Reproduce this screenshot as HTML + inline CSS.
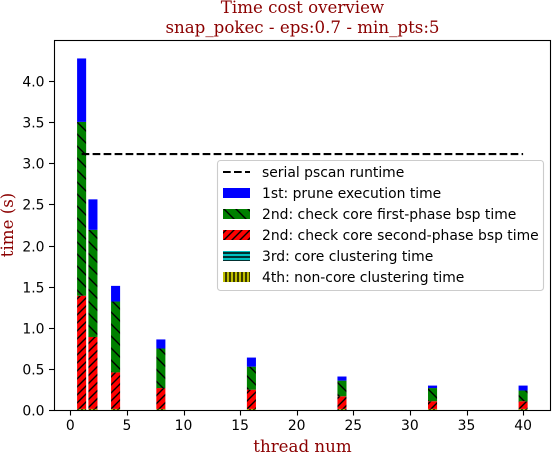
<!DOCTYPE html>
<html>
<head>
<meta charset="utf-8">
<style>
html,body{margin:0;padding:0;background:#fff;width:553px;height:456px;overflow:hidden}
svg{display:block}
text{font-family:"DejaVu Sans","Liberation Sans",sans-serif;font-size:13.9px;fill:#000}
.serif{font-family:"DejaVu Serif","Liberation Serif",serif;font-size:16.67px;fill:#8b0000}
</style>
</head>
<body>
<svg id="chart" xmlns="http://www.w3.org/2000/svg" width="553" height="456" viewBox="0 0 553 456">
<defs>
<pattern id="h-green" patternUnits="userSpaceOnUse" width="12" height="12" patternTransform="translate(3,0)"><rect width="12" height="12" fill="#008000"/><path d="M-3 -3L15 15M-3 9L3 15M9 -3L15 3" stroke="#000" stroke-width="1.4"/></pattern>
<pattern id="h-red" patternUnits="userSpaceOnUse" width="8" height="8"><rect width="8" height="8" fill="#ff0000"/><path d="M-2 10L10 -2M-2 2L2 -2M6 10L10 6" stroke="#000" stroke-width="1.4"/></pattern>
<pattern id="h-cyan" patternUnits="userSpaceOnUse" width="8" height="4" patternTransform="translate(0,1)"><rect width="8" height="4" fill="#00bfbf"/><path d="M0 0H8M0 4H8" stroke="#000" stroke-width="1.4"/></pattern>
<pattern id="h-yellow" patternUnits="userSpaceOnUse" width="4" height="8"><rect width="4" height="8" fill="#bfbf00"/><path d="M2 0V8" stroke="#000" stroke-width="1.4"/></pattern>
</defs>
<text class="serif" x="302.5" y="13" text-anchor="middle">Time cost overview</text>
<text class="serif" x="302.5" y="33" text-anchor="middle">snap_pokec - eps:0.7 - min_pts:5</text>
<g id="bars"></g>
<line id="serial-line" stroke="#000" stroke-width="2.08" stroke-dasharray="7.7 3.3"/>
<g id="axes"></g>
<rect x="54.5" y="40.5" width="496" height="370" fill="none" stroke="#000" stroke-width="1.1"/>
<text class="serif" x="302.5" y="452" text-anchor="middle">thread num</text>
<text class="serif" transform="translate(13,225) rotate(-90)" text-anchor="middle">time (s)</text>
<g>
<rect x="217.5" y="160.5" width="326" height="130" rx="3" fill="#fff" fill-opacity="0.8" stroke="#ccc" stroke-width="1.1"/>
<line x1="223" x2="250" y1="172" y2="172" stroke="#000" stroke-width="2.08" stroke-dasharray="7.7 3.3"/>
<text x="262" y="177">serial pscan runtime</text>
<rect x="223" y="188" width="27" height="10" fill="#0000ff"/>
<text x="262" y="198">1st: prune execution time</text>
<rect x="223" y="209" width="27" height="10" fill="url(#h-green)"/>
<text x="262" y="219">2nd: check core first-phase bsp time</text>
<rect x="223" y="230" width="27" height="10" fill="url(#h-red)"/>
<text x="262" y="240">2nd: check core second-phase bsp time</text>
<rect x="223" y="251" width="27" height="10" fill="url(#h-cyan)"/>
<text x="262" y="261">3rd: core clustering time</text>
<rect x="223" y="272" width="27" height="10" fill="url(#h-yellow)"/>
<text x="262" y="282">4th: non-core clustering time</text>
</g>
</svg>
<script>
const threads = [1, 2, 4, 8, 16, 24, 32, 40];
const nonCoreTime = [0.015, 0.015, 0.015, 0.015, 0.015, 0.015, 0.015, 0.015];
const coreTime = [0.002, 0.002, 0.002, 0.002, 0.002, 0.002, 0.002, 0.002];
const secondPhaseTime = [1.373, 0.873, 0.443, 0.253, 0.233, 0.153, 0.093, 0.093];
const firstPhaseTime = [2.11, 1.30, 0.86, 0.48, 0.28, 0.19, 0.16, 0.13];
const pruneTime = [0.77, 0.37, 0.19, 0.11, 0.11, 0.05, 0.03, 0.06];
const serialRuntime = 3.11;
const xTicks = [0, 5, 10, 15, 20, 25, 30, 35, 40];
const yTicks = ['0.0', '0.5', '1.0', '1.5', '2.0', '2.5', '3.0', '3.5', '4.0'];

const NS = 'http://www.w3.org/2000/svg';
const xScale = v => 70.3 + v * 11.32;
const yScale = v => 410.3 - v * 82.4;
const barWidth = 0.8;

function make(tag, attrs, parent) {
  const el = document.createElementNS(NS, tag);
  for (const k in attrs) el.setAttribute(k, attrs[k]);
  parent.appendChild(el);
  return el;
}

const barsGroup = document.getElementById('bars');
const stacks = [
  [nonCoreTime, 'url(#h-yellow)', 'bar-non-core-clustering'],
  [coreTime, 'url(#h-cyan)', 'bar-core-clustering'],
  [secondPhaseTime, 'url(#h-red)', 'bar-second-phase'],
  [firstPhaseTime, 'url(#h-green)', 'bar-first-phase'],
  [pruneTime, '#0000ff', 'bar-prune']
];
threads.forEach((t, i) => {
  let base = 0;
  stacks.forEach(s => {
    const top = base + s[0][i];
    const r = make('rect', {
      x: xScale(t - barWidth / 2),
      y: yScale(top),
      width: xScale(t + barWidth / 2) - xScale(t - barWidth / 2),
      height: yScale(base) - yScale(top),
      fill: s[1]
    }, barsGroup);
    
    
    base = top;
  });
});

const serial = document.getElementById('serial-line');
serial.setAttribute('x1', xScale(1));
serial.setAttribute('x2', xScale(40));
serial.setAttribute('y1', yScale(serialRuntime));
serial.setAttribute('y2', yScale(serialRuntime));

const axesGroup = document.getElementById('axes');
xTicks.forEach(v => {
  const px = Math.round(xScale(v)) + 0.5;
  const tick = make('line', {x1: px, x2: px, y1: 410.5, y2: 415.5, stroke: '#000', 'stroke-width': 1.1}, axesGroup);
  
  
  const label = make('text', {x: xScale(v), y: 430, 'text-anchor': 'middle'}, axesGroup);
  
  
  label.textContent = v;
});
yTicks.forEach(v => {
  const py = Math.round(yScale(parseFloat(v))) + 0.5;
  const tick = make('line', {x1: 49, x2: 54.5, y1: py, y2: py, stroke: '#000', 'stroke-width': 1.1}, axesGroup);
  
  
  const label = make('text', {x: 44.5, y: py + 5, 'text-anchor': 'end'}, axesGroup);
  
  
  label.textContent = v;
});
</script>
</body>
</html>
